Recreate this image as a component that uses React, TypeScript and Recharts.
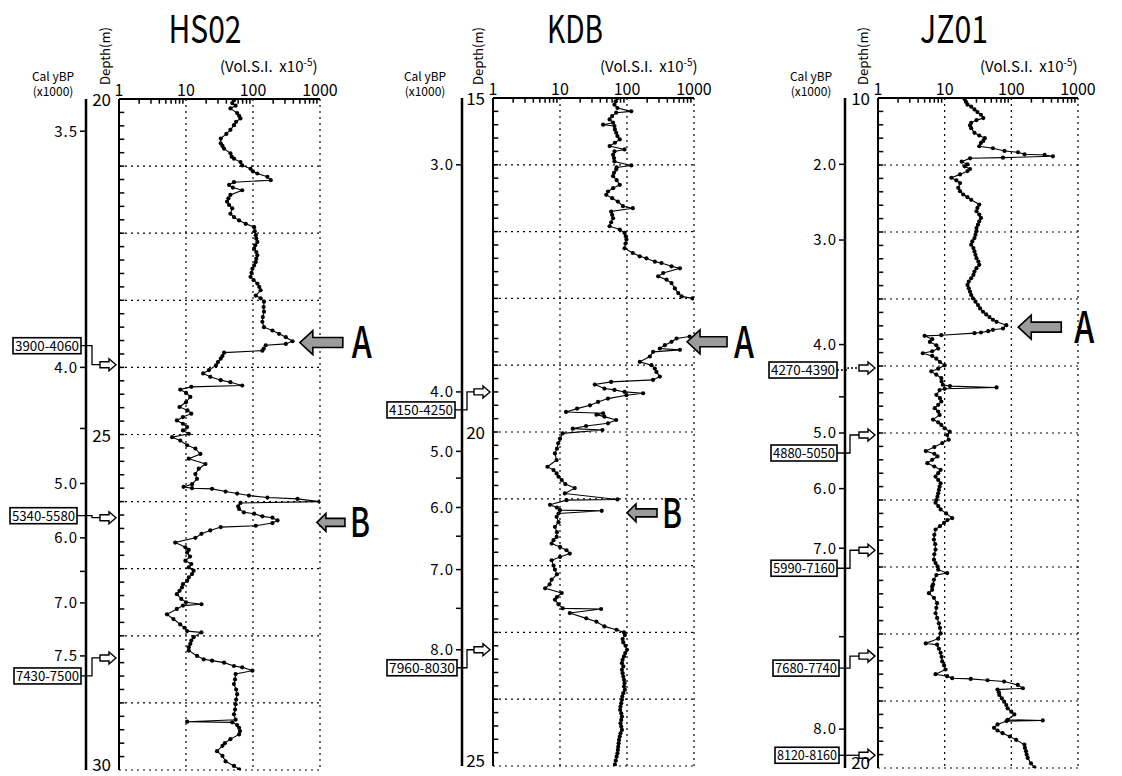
import React from 'react';
import { ComposedChart, Scatter, XAxis, YAxis, ReferenceLine, ReferenceDot } from 'recharts';

const FONT = "'Noto Sans CJK JP', 'Noto Sans', 'DejaVu Sans', sans-serif";

// ---- axis ticks ----
const xTicks = [1, 10, 100, 1000];
const xTickLabels = ['1', '10', '100', '1000'];
const xMinorTicks = [2, 3, 4, 5, 6, 7, 8, 9, 20, 30, 40, 50, 60, 70, 80, 90, 200, 300, 400, 500, 600, 700, 800, 900];

// ---- magnetic susceptibility profiles: [depth (m), Vol.S.I. x10^-5] ----
const hs02Profile: [number, number][] = [
  [20.02, 52], [20.06, 49], [20.10, 55], [20.14, 46], [20.21, 58], [20.25, 62], [20.29, 65], [20.34, 56], [20.39, 52], [20.46, 46],
  [20.52, 40], [20.59, 33], [20.66, 33], [20.70, 35], [20.74, 37], [20.81, 46], [20.86, 48], [20.89, 52], [20.94, 65], [20.99, 69],
  [21.04, 92], [21.08, 100], [21.11, 116], [21.16, 164], [21.21, 184], [21.24, 52], [21.28, 44], [21.32, 50], [21.36, 69], [21.43, 46],
  [21.48, 43], [21.53, 41], [21.58, 44], [21.63, 49], [21.71, 46], [21.76, 52], [21.81, 62], [21.86, 78], [21.91, 104], [21.97, 106],
  [22.03, 110], [22.08, 112], [22.13, 116], [22.18, 108], [22.23, 104], [22.28, 112], [22.33, 116], [22.38, 112], [22.43, 110], [22.48, 104],
  [22.53, 98], [22.59, 95], [22.65, 92], [22.70, 102], [22.75, 116], [22.80, 124], [22.85, 130], [22.93, 110], [22.97, 130], [23.02, 146],
  [23.10, 144], [23.17, 146], [23.25, 140], [23.32, 138], [23.40, 146], [23.45, 195], [23.50, 245], [23.55, 309], [23.61, 389], [23.65, 309],
  [23.67, 155], [23.72, 145], [23.75, 138], [23.78, 37], [23.83, 35], [23.87, 33], [23.92, 30], [23.97, 28], [24.04, 22], [24.09, 18],
  [24.14, 23], [24.19, 33], [24.22, 46], [24.27, 69], [24.29, 12], [24.33, 8.2], [24.38, 10], [24.44, 11.6], [24.52, 10], [24.59, 8],
  [24.64, 10.5], [24.69, 12], [24.74, 9], [24.79, 7.3], [24.84, 9], [24.89, 10.4], [24.94, 9], [24.99, 11], [25.04, 6.2], [25.09, 8.2],
  [25.16, 10.4], [25.21, 13.8], [25.29, 16.4], [25.36, 11], [25.44, 19.5], [25.51, 15.5], [25.59, 13.8], [25.66, 14.6], [25.74, 12.3], [25.78, 9.2],
  [25.80, 12.3], [25.81, 24.5], [25.85, 39], [25.88, 58], [25.91, 87], [25.94, 164], [25.96, 462], [26.00, 977], [26.02, 65], [26.07, 60],
  [26.11, 62], [26.16, 73], [26.18, 104], [26.22, 138], [26.24, 195], [26.28, 232], [26.32, 195], [26.36, 110], [26.38, 33], [26.43, 23],
  [26.48, 17], [26.54, 13.8], [26.61, 6.9], [26.68, 9.8], [26.72, 11], [26.76, 10.4], [26.82, 11.5], [26.88, 9.8], [26.93, 12], [26.98, 11],
  [27.03, 13], [27.08, 12.3], [27.13, 11], [27.18, 10.4], [27.23, 9], [27.28, 8.7], [27.33, 8], [27.38, 7.3], [27.45, 8.5], [27.50, 10],
  [27.53, 17], [27.55, 9], [27.60, 7.3], [27.68, 5.2], [27.75, 6.5], [27.83, 8.2], [27.88, 9.5], [27.93, 10.4], [27.95, 17], [28.02, 13],
  [28.07, 12], [28.12, 11.6], [28.17, 11], [28.22, 11], [28.30, 14.6], [28.35, 18.4], [28.37, 24.5], [28.40, 37], [28.45, 52], [28.47, 69],
  [28.52, 98], [28.57, 55], [28.65, 54], [28.72, 52], [28.80, 56], [28.87, 58], [28.95, 56], [29.02, 55], [29.10, 54], [29.17, 52],
  [29.25, 55], [29.28, 10.4], [29.29, 49], [29.33, 58], [29.37, 62], [29.42, 64], [29.47, 62], [29.54, 46], [29.60, 38], [29.64, 35],
  [29.72, 29], [29.79, 35], [29.87, 39], [29.94, 52], [29.99, 62],
];

const kdbUpperProfile: [number, number][] = [
  [15.00, 73], [15.05, 68], [15.10, 65], [15.15, 72], [15.20, 116], [15.22, 69], [15.27, 60], [15.32, 55], [15.37, 62], [15.40, 44],
  [15.42, 65], [15.47, 66], [15.52, 69], [15.57, 72], [15.62, 78], [15.67, 66], [15.72, 55], [15.77, 92], [15.80, 65], [15.85, 62],
  [15.90, 64], [15.95, 65], [16.01, 116], [16.04, 70], [16.07, 69], [16.12, 64], [16.17, 62], [16.23, 70], [16.30, 78], [16.35, 62],
  [16.40, 52], [16.45, 49], [16.50, 60], [16.55, 73], [16.62, 87], [16.65, 122], [16.70, 58], [16.75, 60], [16.80, 62], [16.86, 58],
  [16.92, 55], [16.97, 78], [17.02, 92], [17.07, 96], [17.12, 98], [17.18, 95], [17.25, 92], [17.32, 122], [17.37, 155], [17.40, 195],
  [17.45, 260], [17.47, 327], [17.52, 462], [17.55, 617], [17.62, 347], [17.67, 292], [17.72, 389], [17.77, 462], [17.85, 519], [17.92, 582],
  [17.97, 653], [18.00, 950],
];

const kdbLowerProfile: [number, number][] = [
  [18.57, 860], [18.60, 550], [18.65, 462], [18.70, 367], [18.75, 309], [18.77, 617], [18.80, 245], [18.87, 219], [18.95, 155], [19.00, 232],
  [19.05, 260], [19.10, 275], [19.17, 309], [19.22, 245], [19.25, 58], [19.29, 33], [19.35, 46], [19.37, 65], [19.40, 92], [19.42, 174],
  [19.45, 98], [19.50, 52], [19.55, 37], [19.60, 28], [19.65, 18], [19.70, 12.3], [19.72, 44], [19.74, 35], [19.77, 46], [19.82, 69],
  [19.87, 52], [19.91, 24.5], [19.95, 15.5], [19.97, 43], [20.02, 11], [20.10, 10], [20.17, 9.4], [20.25, 9], [20.32, 8.4], [20.42, 8.9],
  [20.52, 6.5], [20.57, 8], [20.62, 8.9], [20.67, 9.5], [20.72, 10.6], [20.78, 12], [20.84, 16.6], [20.92, 11.8], [21.01, 72], [21.02, 12.5],
  [21.09, 7.1], [21.13, 9], [21.17, 10], [21.18, 42], [21.22, 9.5], [21.27, 8.9], [21.35, 9.5], [21.42, 8.4], [21.50, 9], [21.57, 8.9],
  [21.62, 8], [21.67, 7.5], [21.72, 10], [21.77, 12.5], [21.82, 14], [21.87, 10], [21.92, 7.5], [22.00, 8], [22.06, 8.4], [22.13, 9],
  [22.21, 7.5], [22.28, 7], [22.34, 6], [22.41, 10.6], [22.47, 9], [22.51, 8.4], [22.58, 9.5], [22.64, 11], [22.65, 41], [22.71, 14],
  [22.79, 24.6], [22.84, 35], [22.91, 46], [22.96, 70], [23.00, 90], [23.04, 93], [23.10, 86], [23.15, 88], [23.20, 95], [23.26, 100],
  [23.31, 94], [23.36, 90], [23.41, 86], [23.46, 84], [23.51, 88], [23.56, 84], [23.61, 86], [23.66, 88], [23.71, 90], [23.76, 92],
  [23.81, 90], [23.86, 93], [23.91, 88], [23.96, 85], [24.01, 84], [24.06, 82], [24.11, 80], [24.16, 79], [24.21, 82], [24.26, 84],
  [24.31, 82], [24.36, 80], [24.41, 82], [24.46, 84], [24.51, 80], [24.56, 78], [24.61, 76], [24.66, 75], [24.71, 74], [24.76, 73],
  [24.81, 72], [24.86, 70], [24.92, 68], [24.98, 66],
];

const jz01Profile: [number, number][] = [
  [10.02, 20], [10.06, 21], [10.10, 22], [10.13, 25], [10.17, 28], [10.21, 31], [10.25, 35], [10.30, 38], [10.33, 30], [10.37, 25],
  [10.41, 24], [10.45, 25], [10.52, 28], [10.56, 33], [10.60, 40], [10.64, 38], [10.67, 35], [10.72, 33], [10.75, 53], [10.79, 79],
  [10.81, 126], [10.84, 158], [10.85, 316], [10.87, 420], [10.89, 75], [10.90, 24], [10.95, 18], [10.99, 22], [11.02, 20], [11.06, 24],
  [11.09, 22], [11.14, 17], [11.19, 12.6], [11.23, 15], [11.27, 17], [11.34, 16], [11.39, 17], [11.44, 19], [11.48, 22], [11.52, 25],
  [11.59, 33], [11.64, 31], [11.69, 30], [11.74, 33], [11.79, 35], [11.84, 33], [11.89, 31.6], [11.94, 30], [11.99, 30], [12.04, 29],
  [12.09, 28], [12.14, 26], [12.19, 25], [12.24, 27], [12.29, 28], [12.34, 29], [12.39, 30], [12.44, 32], [12.49, 33], [12.54, 30],
  [12.59, 28], [12.64, 27], [12.69, 25], [12.74, 23], [12.79, 22], [12.84, 23], [12.89, 24], [12.94, 25], [12.99, 26.6], [13.04, 29],
  [13.09, 31.6], [13.14, 34], [13.19, 37.6], [13.23, 42], [13.27, 47], [13.31, 53], [13.34, 60], [13.39, 84], [13.44, 75], [13.46, 53],
  [13.48, 45], [13.50, 35], [13.51, 28], [13.54, 8.9], [13.55, 5], [13.60, 6.5], [13.64, 6], [13.69, 7.5], [13.74, 8], [13.78, 6.5],
  [13.81, 4.7], [13.85, 6.5], [13.89, 7.5], [13.94, 8.5], [13.99, 10], [14.04, 8], [14.08, 6.3], [14.13, 7.5], [14.18, 8.9], [14.23, 9],
  [14.28, 9.4], [14.30, 12], [14.32, 60], [14.34, 10], [14.36, 8.4], [14.43, 7.5], [14.48, 8.5], [14.53, 8.9], [14.58, 8], [14.63, 7.1],
  [14.68, 8], [14.73, 8.4], [14.80, 6.7], [14.84, 8], [14.88, 8.9], [14.93, 10], [14.98, 11.9], [15.03, 10.9], [15.10, 11.5], [15.15, 9.2],
  [15.21, 7], [15.27, 5.2], [15.31, 7], [15.35, 7.8], [15.40, 6.5], [15.45, 5.5], [15.50, 7], [15.55, 8.7], [15.60, 8], [15.65, 7.3],
  [15.70, 8], [15.75, 8.7], [15.80, 8.4], [15.85, 8.2], [15.90, 8], [15.95, 7.8], [16.00, 7.5], [16.04, 7.3], [16.09, 8], [16.14, 8.7],
  [16.20, 10.5], [16.27, 13], [16.30, 11], [16.34, 9.8], [16.39, 8.5], [16.44, 7.3], [16.52, 7], [16.59, 6.9], [16.66, 7.2], [16.74, 7.3],
  [16.81, 7], [16.89, 6.9], [16.94, 7.3], [16.99, 7.8], [17.04, 8], [17.09, 10.9], [17.12, 7.5], [17.19, 6.9], [17.26, 6.7], [17.29, 6.5],
  [17.34, 6.5], [17.39, 5.8], [17.46, 6.9], [17.54, 7.7], [17.61, 7.5], [17.69, 7.3], [17.76, 7.7], [17.84, 8.2], [17.91, 8.5], [17.99, 8.7],
  [18.07, 8], [18.14, 5.2], [18.16, 7.7], [18.22, 8.2], [18.28, 8.7], [18.34, 9], [18.41, 9.2], [18.47, 9.8], [18.53, 10.3], [18.60, 7.3],
  [18.63, 10.9], [18.66, 13], [18.67, 24.6], [18.69, 44], [18.71, 78], [18.76, 125], [18.81, 149], [18.83, 62], [18.87, 65], [18.91, 66],
  [18.96, 72], [19.01, 78], [19.06, 84], [19.11, 88], [19.16, 100], [19.20, 111], [19.28, 88], [19.29, 296], [19.30, 85], [19.35, 62],
  [19.40, 55], [19.44, 62], [19.48, 74], [19.53, 95], [19.58, 118], [19.65, 157], [19.70, 160], [19.75, 166], [19.80, 170], [19.85, 176],
  [19.93, 197], [19.99, 222],
];

// ---- calendar age axis (depth of tick, label) ----
const hs02AgeDepth = [20.48, 24.0, 24.91, 25.73, 26.54, 27.04, 27.51, 28.30];
const hs02AgeLabel = ['3.5', '4.0', '', '5.0', '6.0', '', '7.0', '7.5'];
const kdbAgeDepth = [16.0, 19.40, 20.29, 20.69, 21.13, 21.56, 22.06, 22.64, 23.26];
const kdbAgeLabel = ['3.0', '4.0', '5.0', '', '6.0', '', '7.0', '', '8.0'];
const jz01AgeDepth = [10.99, 12.12, 13.68, 14.46, 15.0, 15.83, 16.72, 18.04, 19.42];
const jz01AgeLabel = ['2.0', '3.0', '4.0', '', '5.0', '6.0', '7.0', '', '8.0'];

// ---- dated horizons ----
const hs02DatedDepth = [23.96, 26.24, 28.33];
const hs02DatedLabel = ['3900-4060', '5340-5580', '7430-7500'];
const kdbDatedDepth = [19.40, 23.26];
const kdbDatedLabel = ['4150-4250', '7960-8030'];
const jz01DatedDepth = [14.03, 15.03, 16.75, 18.33, 19.81];
const jz01DatedLabel = ['4270-4390', '4880-5050', '5990-7160', '7680-7740', '8120-8160'];

// ---- event markers ----
const hs02EventLabel = ['A', 'B'];
const hs02EventValue = [500, 900];
const hs02EventDepth = [23.63, 26.31];
const kdbEventLabel = ['A', 'B'];
const kdbEventValue = [787, 100];
const kdbEventDepth = [18.65, 21.21];
const jz01EventLabel = ['A'];
const jz01EventValue = [127];
const jz01EventDepth = [13.42];

// ---- layout (positions / sizes only) ----
type BoxLayout = { dy: number; l: number; r: number; elbow: number; dashed?: boolean };
type EventLayout = { len: number; head: number; shaft: number; hl: number; gap: number; fs: number };

const PANELS = [
  {
    title: 'HS02', left: 0, width: 380, margin: { top: 69, right: 60, bottom: 6, left: 26 }, depthW: 33,
    domain: [20, 30] as [number, number], depthTicks: [20, 25, 30],
    profiles: [hs02Profile], ageDepth: hs02AgeDepth, ageLabel: hs02AgeLabel,
    datedDepth: hs02DatedDepth, datedLabel: hs02DatedLabel,
    boxes: [
      { dy: -19, l: -106, r: -38, elbow: -27 },
      { dy: -2, l: -109, r: -42, elbow: -27 },
      { dy: 18, l: -105, r: -38, elbow: -27 },
    ] as BoxLayout[],
    eventLabel: hs02EventLabel, eventValue: hs02EventValue, eventDepth: hs02EventDepth,
    events: [
      { len: 43, head: 12, shaft: 5, hl: 13, gap: 9, fs: 44 },
      { len: 28, head: 9, shaft: 4, hl: 9, gap: 5, fs: 41 },
    ] as EventLayout[],
    titleX: 205, titleW: 73, volX: 220, calX: 53, depthLabelX: 105,
  },
  {
    title: 'KDB', left: 370, width: 395, margin: { top: 68, right: 71, bottom: 10, left: 32 }, depthW: 31,
    domain: [15, 25] as [number, number], depthTicks: [15, 20, 25],
    profiles: [kdbUpperProfile, kdbLowerProfile], ageDepth: kdbAgeDepth, ageLabel: kdbAgeLabel,
    datedDepth: kdbDatedDepth, datedLabel: kdbDatedLabel,
    boxes: [
      { dy: 18, l: -106, r: -38, elbow: -26 },
      { dy: 18, l: -106, r: -36, elbow: -26 },
    ] as BoxLayout[],
    eventLabel: kdbEventLabel, eventValue: kdbEventValue, eventDepth: kdbEventDepth,
    events: [
      { len: 40, head: 12, shaft: 5, hl: 13, gap: 7, fs: 44 },
      { len: 30, head: 9, shaft: 4, hl: 9, gap: 5, fs: 41 },
    ] as EventLayout[],
    titleX: 575, titleW: 56, volX: 600, calX: 425, depthLabelX: 478,
  },
  {
    title: 'JZ01', left: 745, width: 377, margin: { top: 68, right: 44, bottom: 8, left: 40 }, depthW: 33,
    domain: [10, 20] as [number, number], depthTicks: [10, 20],
    profiles: [jz01Profile], ageDepth: jz01AgeDepth, ageLabel: jz01AgeLabel,
    datedDepth: jz01DatedDepth, datedLabel: jz01DatedLabel,
    boxes: [
      { dy: 2, l: -109, r: -41, elbow: -30, dashed: true },
      { dy: 18, l: -107, r: -41, elbow: -28 },
      { dy: 18, l: -107, r: -41, elbow: -28 },
      { dy: 12, l: -105, r: -39, elbow: -28 },
      { dy: 0, l: -103, r: -39, elbow: -28 },
    ] as BoxLayout[],
    eventLabel: jz01EventLabel, eventValue: jz01EventValue, eventDepth: jz01EventDepth,
    events: [{ len: 43, head: 12, shaft: 5, hl: 13, gap: 13, fs: 44 }] as EventLayout[],
    titleX: 954, titleW: 68, volX: 980, calX: 811, depthLabelX: 863,
  },
];

function minorDepthTicks(domain: [number, number]) {
  const out: number[] = [];
  for (let i = 1; i < 50; i++) out.push(Math.round((domain[0] + i * 0.2) * 100) / 100);
  return out;
}

function gridDepths(domain: [number, number]) {
  const out: number[] = [];
  for (let d = domain[0] + 1; d <= domain[1]; d++) out.push(d);
  return out;
}

const Dot = (props: any) => {
  const { cx, cy } = props;
  if (cx == null || cy == null) return null;
  return <circle cx={cx} cy={cy} r={2.1} fill="#000" />;
};

const DatedMarker = (props: any) => {
  const { cx, cy, label, box } = props as { cx: number; cy: number; label: string; box: BoxLayout };
  const bx1 = cx + box.l;
  const bx2 = cx + box.r;
  const by = cy + box.dy;
  const tail = cx - 19;
  const tip = cx - 3;
  const ex = cx + box.elbow;
  const arrow = `M${tail},${cy - 3} L${tip - 7},${cy - 3} L${tip - 7},${cy - 6} L${tip},${cy} L${tip - 7},${cy + 6} L${tip - 7},${cy + 3} L${tail},${cy + 3} Z`;
  return (
    <g>
      <polyline
        points={`${bx2},${by} ${ex},${by} ${ex},${cy} ${tail},${cy}`}
        fill="none"
        stroke="#000"
        strokeWidth={1.3}
        strokeDasharray={box.dashed ? '2 2' : undefined}
      />
      <rect x={bx1} y={by - 8} width={bx2 - bx1} height={16} fill="#fff" stroke="#000" strokeWidth={1.6} />
      <text
        x={(bx1 + bx2) / 2}
        y={by + 5}
        textAnchor="middle"
        fontSize={13}
        fontFamily={FONT}
        fill="#000"
        textLength={bx2 - bx1 - 4}
        lengthAdjust="spacingAndGlyphs"
      >
        {label}
      </text>
      <path d={arrow} fill="#fff" stroke="#000" strokeWidth={1.4} />
    </g>
  );
};

const EventMarker = (props: any) => {
  const { cx, cy, label, ev } = props as { cx: number; cy: number; label: string; ev: EventLayout };
  const d = `M${cx},${cy} L${cx + ev.hl},${cy - ev.head} L${cx + ev.hl},${cy - ev.shaft} L${cx + ev.len},${cy - ev.shaft} L${cx + ev.len},${cy + ev.shaft} L${cx + ev.hl},${cy + ev.shaft} L${cx + ev.hl},${cy + ev.head} Z`;
  return (
    <g>
      <path d={d} fill="#9c9c9c" stroke="#000" strokeWidth={1.6} />
      <text
        x={cx + ev.len + ev.gap}
        y={cy + ev.fs * 0.36}
        fontSize={ev.fs}
        fontFamily={FONT}
        fontWeight={500}
        fill="#000"
        textLength={20}
        lengthAdjust="spacingAndGlyphs"
      >
        {label}
      </text>
    </g>
  );
};

function Panel({ p }: { p: (typeof PANELS)[number] }) {
  const minor = minorDepthTicks(p.domain);
  const grid = gridDepths(p.domain);
  const tickStyle = { fontSize: 16, fill: '#000', fontFamily: FONT };
  const DepthTick = (tp: any) => {
    const v = tp.payload?.value;
    const dy = v === p.domain[1] ? 1 : 7;
    return (
      <text x={tp.x} y={tp.y + dy} textAnchor="end" fontSize={17} fontFamily={FONT} fill="#000">
        {v}
      </text>
    );
  };
  return (
    <div style={{ position: 'absolute', left: p.left, top: 0 }}>
      <ComposedChart width={p.width} height={776} margin={p.margin}>
        <XAxis
          xAxisId="x"
          orientation="top"
          type="number"
          scale="log"
          domain={[1, 1000]}
          allowDataOverflow
          dataKey="v"
          ticks={xTicks}
          interval={0}
          tickFormatter={(v: number) => xTickLabels[xTicks.indexOf(v)] ?? ''}
          tickSize={0}
          tickMargin={3}
          height={30}
          axisLine={{ stroke: '#000', strokeWidth: 2 }}
          tick={tickStyle}
        />
        <YAxis
          yAxisId="z"
          type="number"
          domain={p.domain}
          reversed
          allowDataOverflow
          ticks={p.ageDepth}
          interval={0}
          width={60}
          tickSize={6}
          tickMargin={2}
          tickFormatter={(v: number) => {
            const i = p.ageDepth.indexOf(v);
            return i >= 0 ? p.ageLabel[i] : '';
          }}
          axisLine={{ stroke: '#000', strokeWidth: 2.5 }}
          tickLine={{ stroke: '#000', strokeWidth: 1.5 }}
          tick={{ ...tickStyle, fontSize: 15, letterSpacing: 1 }}
        />
        <YAxis
          yAxisId="a"
          type="number"
          dataKey="d"
          domain={p.domain}
          reversed
          allowDataOverflow
          ticks={p.depthTicks}
          interval={0}
          width={p.depthW}
          tickLine={false}
          tickSize={0}
          tickMargin={8}
          axisLine={{ stroke: '#000', strokeWidth: 2 }}
          tick={DepthTick}
        />
        {grid.map((d) => (
          <ReferenceLine key={`h${d}`} xAxisId="x" yAxisId="a" y={d} stroke="#000" strokeWidth={1.2} strokeDasharray="2 4" />
        ))}
        {[10, 100, 1000].map((v) => (
          <ReferenceLine key={`v${v}`} xAxisId="x" yAxisId="a" x={v} stroke="#000" strokeWidth={1.2} strokeDasharray="2 4" />
        ))}
        {minor.map((d) => (
          <ReferenceLine
            key={`md${d}`}
            xAxisId="x"
            yAxisId="a"
            segment={[{ x: 1, y: d }, { x: 1.2, y: d }]}
            stroke="#000"
            strokeWidth={1.5}
          />
        ))}
        {xMinorTicks.map((v) => (
          <ReferenceLine
            key={`mx${v}`}
            xAxisId="x"
            yAxisId="a"
            segment={[{ x: v, y: p.domain[0] }, { x: v, y: p.domain[0] + 0.07 }]}
            stroke="#000"
            strokeWidth={1.5}
          />
        ))}
        {p.profiles.map((prof, i) => (
          <Scatter
            key={`s${i}`}
            xAxisId="x"
            yAxisId="a"
            data={prof.map(([d, v]) => ({ d, v }))}
            line={{ stroke: '#000', strokeWidth: 1.1 }}
            lineJointType="linear"
            shape={Dot}
            fill="#000"
            isAnimationActive={false}
          />
        ))}
        {p.datedDepth.map((d, i) => (
          <ReferenceDot
            key={`b${i}`}
            xAxisId="x"
            yAxisId="a"
            x={1}
            y={d}
            ifOverflow="visible"
            shape={(sp: any) => <DatedMarker {...sp} label={p.datedLabel[i]} box={p.boxes[i]} />}
          />
        ))}
        {p.eventDepth.map((d, i) => (
          <ReferenceDot
            key={`e${i}`}
            xAxisId="x"
            yAxisId="a"
            x={p.eventValue[i]}
            y={d}
            ifOverflow="visible"
            shape={(sp: any) => <EventMarker {...sp} label={p.eventLabel[i]} ev={p.events[i]} />}
          />
        ))}
      </ComposedChart>
    </div>
  );
}

function PanelTexts({ p }: { p: (typeof PANELS)[number] }) {
  return (
    <g fontFamily={FONT} fill="#000">
      <text x={p.titleX} y={43} fontSize={38} textAnchor="middle" textLength={p.titleW} lengthAdjust="spacingAndGlyphs">
        {p.title}
      </text>
      <text x={p.volX} y={72} fontSize={15} xmlSpace="preserve">
        (Vol.S.I.  x10<tspan dy={-6} fontSize={10}>-5</tspan>
        <tspan dy={6}>)</tspan>
      </text>
      <text x={p.calX} y={81} fontSize={12} textAnchor="middle">
        Cal yBP
      </text>
      <text x={p.calX} y={96} fontSize={12} textAnchor="middle">
        (x1000)
      </text>
      <text
        transform={`translate(${p.depthLabelX + 5},56) rotate(-90)`}
        fontSize={13}
        textAnchor="middle"
        textLength={58}
        lengthAdjust="spacingAndGlyphs"
      >
        Depth(m)
      </text>
    </g>
  );
}

export default function App() {
  return (
    <div style={{ position: 'absolute', left: 0, top: 0, width: 1122, height: 776, background: '#fff', overflow: 'hidden' }}>
      {PANELS.map((p) => (
        <Panel key={p.title} p={p} />
      ))}
      <svg width={1122} height={776} style={{ position: 'absolute', left: 0, top: 0, pointerEvents: 'none' }}>
        {PANELS.map((p) => (
          <PanelTexts key={p.title} p={p} />
        ))}
      </svg>
    </div>
  );
}
